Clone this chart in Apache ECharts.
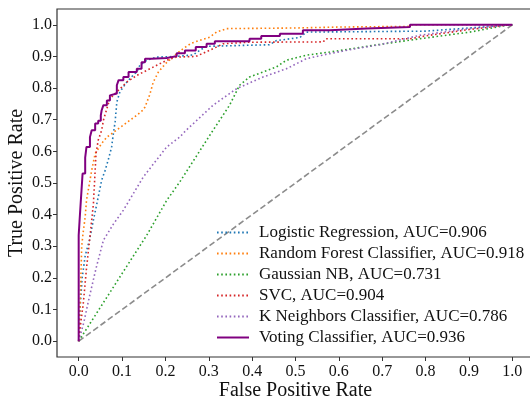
<!DOCTYPE html>
<html>
<head>
<meta charset="utf-8">
<script src="https://cdn.jsdelivr.net/npm/echarts@6/dist/echarts.min.js"></script>
<style>
  html, body { margin: 0; padding: 0; background: #fff; }
  #chart { width: 530px; height: 403px; }
</style>
</head>
<body>
<div id="chart"></div>
<script>
// ROC curves of the individual classifiers and the soft-voting ensemble
const modelNames = [
  'Logistic Regression, AUC=0.906',
  'Random Forest Classifier, AUC=0.918',
  'Gaussian NB, AUC=0.731',
  'SVC, AUC=0.904',
  'K Neighbors Classifier, AUC=0.786',
  'Voting Classifier, AUC=0.936'
];

const lrFpr = [0, 0.003, 0.008, 0.015, 0.025, 0.032, 0.042, 0.053, 0.061, 0.068, 0.076, 0.080, 0.084, 0.088, 0.095, 0.111, 0.125, 0.134, 0.141, 0.157, 0.180, 0.226, 0.264, 0.280, 0.295, 0.440, 0.456, 0.510, 0.525, 0.800, 0.850, 0.900, 0.950, 0.994, 1.0];
const lrTpr = [0, 0.100, 0.200, 0.270, 0.320, 0.370, 0.435, 0.509, 0.540, 0.572, 0.614, 0.656, 0.693, 0.756, 0.788, 0.819, 0.840, 0.851, 0.872, 0.888, 0.898, 0.900, 0.905, 0.920, 0.932, 0.937, 0.950, 0.960, 0.977, 0.980, 0.985, 0.990, 0.995, 1.0, 1.0];

const rfFpr = [0, 0.003, 0.005, 0.007, 0.010, 0.015, 0.018, 0.025, 0.030, 0.038, 0.053, 0.065, 0.080, 0.103, 0.120, 0.134, 0.148, 0.153, 0.164, 0.172, 0.184, 0.200, 0.222, 0.241, 0.260, 0.302, 0.318, 0.341, 0.502, 0.600, 0.760, 0.770, 1.0];
const rfTpr = [0, 0.100, 0.200, 0.300, 0.340, 0.393, 0.445, 0.500, 0.540, 0.593, 0.625, 0.645, 0.660, 0.683, 0.700, 0.714, 0.730, 0.740, 0.780, 0.819, 0.851, 0.877, 0.904, 0.925, 0.942, 0.961, 0.977, 0.988, 0.990, 0.993, 0.995, 1.0, 1.0];

const nbFpr = [0, 0.110, 0.157, 0.203, 0.233, 0.310, 0.348, 0.371, 0.394, 0.425, 0.456, 0.479, 0.525, 0.579, 0.633, 0.679, 0.787, 0.902, 0.994, 1.0];
const nbTpr = [0, 0.235, 0.335, 0.445, 0.503, 0.667, 0.746, 0.809, 0.835, 0.851, 0.867, 0.888, 0.904, 0.914, 0.925, 0.935, 0.956, 0.977, 1.0, 1.0];

const svcFpr = [0, 0.005, 0.011, 0.018, 0.026, 0.034, 0.038, 0.040, 0.045, 0.053, 0.057, 0.065, 0.072, 0.088, 0.111, 0.134, 0.157, 0.180, 0.203, 0.226, 0.270, 0.295, 0.318, 0.333, 0.394, 0.564, 0.570, 0.764, 0.800, 0.850, 0.900, 0.950, 0.994, 1.0];
const svcTpr = [0, 0.060, 0.124, 0.230, 0.330, 0.435, 0.540, 0.593, 0.635, 0.667, 0.698, 0.735, 0.767, 0.788, 0.819, 0.840, 0.856, 0.872, 0.888, 0.898, 0.900, 0.915, 0.930, 0.940, 0.945, 0.946, 0.956, 0.956, 0.965, 0.975, 0.985, 0.993, 1.0, 1.0];

const knnFpr = [0, 0.012, 0.022, 0.040, 0.057, 0.080, 0.103, 0.149, 0.203, 0.233, 0.248, 0.310, 0.364, 0.425, 0.479, 0.525, 0.579, 0.640, 0.694, 0.787, 0.902, 0.994, 1.0];
const knnTpr = [0, 0.060, 0.124, 0.230, 0.319, 0.370, 0.414, 0.519, 0.614, 0.645, 0.667, 0.746, 0.798, 0.835, 0.861, 0.893, 0.909, 0.925, 0.937, 0.967, 0.988, 1.0, 1.0];

const voteFpr = [0, 0.002, 0.005, 0.009, 0.015, 0.018, 0.026, 0.030, 0.038, 0.045, 0.051, 0.053, 0.057, 0.065, 0.072, 0.076, 0.088, 0.092, 0.103, 0.115, 0.134, 0.145, 0.153, 0.168, 0.203, 0.226, 0.245, 0.270, 0.295, 0.314, 0.394, 0.421, 0.464, 0.517, 0.579, 0.664, 0.764, 1.0];
const voteTpr = [0, 0.335, 0.380, 0.445, 0.530, 0.580, 0.614, 0.645, 0.667, 0.688, 0.697, 0.714, 0.730, 0.746, 0.761, 0.777, 0.783, 0.809, 0.825, 0.835, 0.851, 0.861, 0.882, 0.893, 0.895, 0.901, 0.910, 0.919, 0.930, 0.940, 0.948, 0.956, 0.965, 0.972, 0.983, 0.988, 0.993, 1.0];

// chance line
const chanceX = [0, 1];
const chanceY = [0, 1];

const tickValues = [0, 0.1, 0.2, 0.3, 0.4, 0.5, 0.6, 0.7, 0.8, 0.9, 1.0];

const colors = ['#1f77b4', '#ff7f0e', '#2ca02c', '#d62728', '#9467bd', '#800080'];
const curves = [
  [lrFpr, lrTpr], [rfFpr, rfTpr], [nbFpr, nbTpr],
  [svcFpr, svcTpr], [knnFpr, knnTpr], [voteFpr, voteTpr]
];

const pairs = (xs, ys) => xs.map((x, i) => [x, ys[i]]);
const serif = 'Liberation Serif';

const series = curves.map((c, i) => {
  const voting = i === 5;
  return {
    name: modelNames[i],
    type: 'line',
    data: pairs(c[0], c[1]),
    showSymbol: false,
    symbol: 'none',
    step: voting ? 'start' : false,
    z: voting ? 10 : 5,
    lineStyle: {
      color: colors[i],
      width: voting ? 2 : 1.6,
      type: voting ? 'solid' : [1.6, 2.6],
      cap: 'butt'
    },
    itemStyle: { color: colors[i] },
    emphasis: { disabled: true },
    animation: false
  };
});

series.unshift({
  name: 'chance',
  type: 'line',
  data: pairs(chanceX, chanceY),
  showSymbol: false,
  symbol: 'none',
  z: 2,
  lineStyle: { color: '#8c8c8c', width: 1.6, type: [6, 3] },
  emphasis: { disabled: true },
  animation: false
});

const axisCommon = {
  type: 'value',
  min: -0.05,
  max: 1.05,
  splitLine: { show: false },
  axisLine: { show: false, onZero: false },
  axisTick: {
    show: true, length: 4, inside: false,
    customValues: tickValues,
    lineStyle: { color: '#333', width: 1 }
  },
  axisLabel: {
    customValues: tickValues,
    formatter: v => v.toFixed(1),
    fontFamily: serif,
    fontSize: 16,
    color: '#111'
  },
  nameLocation: 'middle',
  nameMoveOverlap: false,
  nameTextStyle: { fontFamily: serif, fontSize: 20, color: '#111' }
};

const chart = echarts.init(document.getElementById('chart'), null, { renderer: 'canvas' });
chart.setOption({
  animation: false,
  backgroundColor: '#fff',
  grid: {
    left: 57, top: 9, width: 477, height: 348,
    show: true, borderColor: '#333', borderWidth: 1.2,
    containLabel: false,
    outerBoundsMode: 'none'
  },
  xAxis: Object.assign({}, axisCommon, {
    name: 'False Positive Rate',
    nameGap: 24,
    axisLabel: Object.assign({}, axisCommon.axisLabel, { margin: 7 })
  }),
  yAxis: Object.assign({}, axisCommon, {
    name: 'True Positive Rate',
    nameGap: 30,
    axisLabel: Object.assign({}, axisCommon.axisLabel, { margin: 5 })
  }),
  legend: {
    data: modelNames,
    orient: 'vertical',
    left: 216,
    top: 224,
    padding: 0,
    itemWidth: 32,
    itemHeight: 14,
    itemGap: 4,
    selectedMode: false,
    itemStyle: { opacity: 0 },
    textStyle: { fontFamily: serif, fontSize: 17, lineHeight: 14, color: '#111', padding: [0, 0, 0, 5] }
  },
  series: series
});
</script>
</body>
</html>
